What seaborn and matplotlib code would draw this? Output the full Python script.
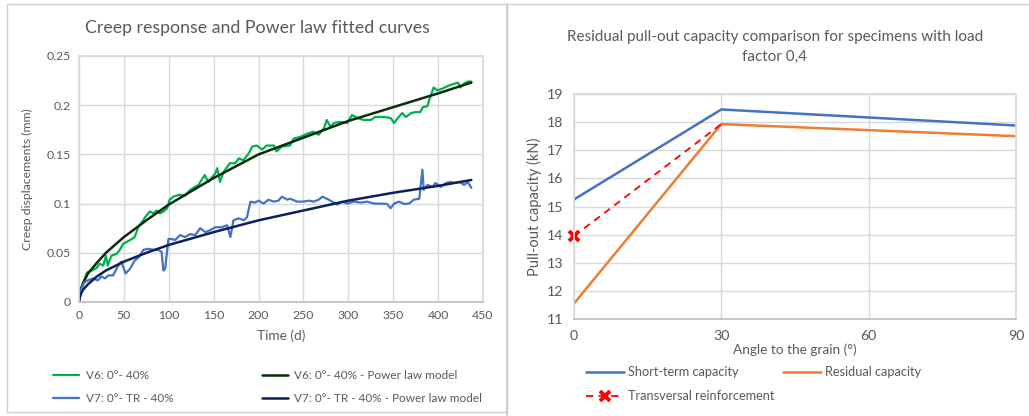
import numpy as np
import pandas as pd
import matplotlib
matplotlib.use("Agg")
import matplotlib.pyplot as plt
import seaborn as sns
from matplotlib.lines import Line2D
from matplotlib.patches import Rectangle

# ---------------- data: left chart ----------------
v6_t = [0, 4.5, 9, 14, 19, 23, 27, 30, 32, 36, 42, 45.5, 49, 53, 57, 62, 66, 70, 73.5, 79, 83, 86.5, 90, 94, 98,
        101, 105, 112, 118, 124, 133, 140, 144, 152, 154, 157, 161, 168, 174, 178, 183, 189, 193, 198, 204, 209,
        217, 220, 226, 235, 239, 247, 254, 261, 267, 273, 276, 280, 284, 291, 299, 304, 310, 317, 325, 330, 340,
        347, 351, 356, 360, 364, 370, 375, 380, 383, 388, 390, 395, 399, 405, 412, 422, 425, 429, 433, 437]
v6_v = [0.009, 0.019, 0.030, 0.032, 0.034, 0.039, 0.037, 0.047, 0.037, 0.047, 0.049, 0.053, 0.059, 0.061, 0.063,
        0.066, 0.076, 0.081, 0.086, 0.092, 0.090, 0.093, 0.090, 0.092, 0.095,
        0.104, 0.107, 0.109, 0.108, 0.114, 0.119, 0.129, 0.122, 0.131, 0.136, 0.122, 0.132, 0.141, 0.141, 0.146,
        0.144, 0.151, 0.158, 0.159, 0.155, 0.159, 0.159, 0.153, 0.158, 0.159, 0.166, 0.168, 0.171, 0.173, 0.170,
        0.177, 0.185, 0.178, 0.182, 0.183, 0.182, 0.190, 0.187, 0.185, 0.185, 0.188, 0.188, 0.187, 0.182, 0.188,
        0.192, 0.188, 0.192, 0.193, 0.193, 0.198, 0.199, 0.205, 0.218, 0.215, 0.217, 0.220, 0.223, 0.218, 0.222,
        0.224, 0.224]

v7_t = [0, 2.6, 6, 10, 15.7, 21, 25, 29, 32.5, 38, 43.6, 47, 52, 57, 62, 67, 71.6, 77, 83, 88, 92, 94, 96, 99.6,
        103, 107, 112.7, 118, 124, 129.5, 135, 140.7, 146, 152, 159, 165, 168.6, 172, 178, 183.6, 187, 191,
        196, 200, 205.6, 211, 217, 222, 226, 232, 235, 243, 250, 256, 261.5, 267, 271, 276, 282, 287.6, 293,
        299, 306, 314, 321, 328.5, 336, 343, 347, 351, 356.5, 362, 367.6, 373, 379, 382.5, 384, 388, 394, 397,
        403, 409, 414, 418, 424, 429, 433, 437]
v7_v = [0.0, 0.0136, 0.020, 0.022, 0.024, 0.022, 0.026, 0.024, 0.027, 0.027, 0.037, 0.041, 0.029, 0.034, 0.042,
        0.046, 0.053, 0.054, 0.053, 0.053, 0.051, 0.032, 0.034, 0.064, 0.064, 0.063, 0.068, 0.066, 0.069, 0.068,
        0.075, 0.071, 0.073, 0.076, 0.076, 0.078, 0.066, 0.083, 0.085, 0.083, 0.086, 0.102,
        0.101, 0.103, 0.100, 0.104, 0.102, 0.103, 0.107, 0.104, 0.105, 0.102, 0.102, 0.103, 0.102, 0.104, 0.107,
        0.105, 0.102, 0.099, 0.102, 0.100, 0.102, 0.101, 0.102, 0.100, 0.100, 0.0997, 0.0953, 0.100, 0.102,
        0.0997, 0.100, 0.104, 0.105, 0.1346, 0.114, 0.119, 0.117, 0.121, 0.117, 0.121, 0.122, 0.121, 0.122,
        0.119, 0.122, 0.116]

m6_t = [0, 1, 2.5, 5, 10, 20, 30, 50, 75, 100, 150, 200, 250, 300, 350, 400, 437]
m6_v = [0.003, 0.009, 0.014, 0.020, 0.029, 0.040, 0.050, 0.066, 0.083, 0.099, 0.126, 0.150, 0.167, 0.184,
        0.198, 0.212, 0.223]
m7_t = [0, 1, 2.5, 5, 10, 20, 30, 50, 75, 100, 150, 200, 250, 300, 350, 400, 437]
m7_v = [0.0, 0.005, 0.009, 0.013, 0.018, 0.026, 0.032, 0.041, 0.050, 0.058, 0.071, 0.083, 0.093, 0.103,
        0.111, 0.118, 0.124]

left_labels = ["V6: 0°- 40%", "V6: 0°- 40% - Power law model",
               "V7: 0°- TR - 40%", "V7: 0°- TR - 40% - Power law model"]

# ---------------- data: right chart ----------------
angles = [0, 30, 90]
short_term = [15.25, 18.45, 17.88]
residual = [11.55, 17.93, 17.50]
trans_angles = [0, 30]
transversal = [13.95, 17.93]
right_labels = ["Short-term capacity", "Residual capacity", "Transversal reinforcement"]

# ---------------- style ----------------
sns.set_theme(style="whitegrid")
FONT = ["Lato", "DejaVu Sans"]
plt.rcParams["font.family"] = FONT
TXT = "#595959"
GRID = "#d9d9d9"

fig = plt.figure(figsize=(10.29, 4.16), dpi=100)
fig.patch.set_facecolor("white")

# panel borders
fig.add_artist(Rectangle((7 / 1029, 1 - 412 / 416), 500 / 1029, 408 / 416, transform=fig.transFigure,
                         fill=False, edgecolor="#d0d0d0", lw=1.0))
fig.add_artist(Line2D([507 / 1029, 507 / 1029], [0, 1 - 4 / 416], transform=fig.transFigure,
                      color="#c8c8c8", lw=1.2))
fig.add_artist(Line2D([507 / 1029, 1.0], [1 - 4 / 416, 1 - 4 / 416], transform=fig.transFigure,
                      color="#d0d0d0", lw=1.0))

# ---------------- left chart ----------------
ax1 = fig.add_axes([79 / 1029, 1 - 302 / 416, 404 / 1029, 246 / 416])
df6 = pd.DataFrame({"t": v6_t, "v": v6_v})
df7 = pd.DataFrame({"t": v7_t, "v": v7_v})
dm6 = pd.DataFrame({"t": m6_t, "v": m6_v})
dm7 = pd.DataFrame({"t": m7_t, "v": m7_v})
sns.lineplot(data=df6, x="t", y="v", ax=ax1, color="#00b050", lw=1.6, sort=False, label=left_labels[0])
sns.lineplot(data=dm6, x="t", y="v", ax=ax1, color="#0d2b0d", lw=1.8, sort=False, label=left_labels[1])
sns.lineplot(data=df7, x="t", y="v", ax=ax1, color="#4472c4", lw=1.6, sort=False, label=left_labels[2])
sns.lineplot(data=dm7, x="t", y="v", ax=ax1, color="#0f1f5c", lw=1.8, sort=False, label=left_labels[3])
ax1.set_xlim(0, 450)
ax1.set_ylim(0, 0.25)
ax1.set_xticks(np.arange(0, 451, 50))
ax1.set_yticks([0, 0.05, 0.1, 0.15, 0.2, 0.25])
ax1.set_yticklabels(["0", "0.05", "0.1", "0.15", "0.2", "0.25"])
ax1.set_xlabel("Time (d)", color=TXT, fontsize=9.8, labelpad=6)
ax1.set_ylabel("Creep displacements (mm)", color=TXT, fontsize=8.8, labelpad=14)
ax1.yaxis.set_label_coords(-0.113, 0.5)
fig.text(257 / 1029, 1 - 28 / 416, "Creep response and Power law fitted curves", color=TXT,
         fontsize=12.8, ha="center", va="center")
ax1.tick_params(colors=TXT, labelsize=8.8, length=0, pad=6)
ax1.grid(True, color=GRID, lw=1.0)
for s in ax1.spines.values():
    s.set_visible(True)
    s.set_color(GRID)
ax1.spines["bottom"].set_color("#bfbfbf")
h, l = ax1.get_legend_handles_labels()
order = [0, 2, 1, 3]
ax1.legend([h[i] for i in order], [l[i] for i in order], ncol=2, loc="upper left",
           bbox_to_anchor=(-0.09, -0.235), frameon=False,
           fontsize=8.5, labelcolor=TXT, handlelength=2.2, handletextpad=0.55, columnspacing=7.5,
           labelspacing=0.95)

# ---------------- right chart ----------------
ax2 = fig.add_axes([574 / 1029, 1 - 319 / 416, 442 / 1029, 225 / 416])
dst = pd.DataFrame({"a": angles, "v": short_term})
dre = pd.DataFrame({"a": angles, "v": residual})
dtr = pd.DataFrame({"a": trans_angles, "v": transversal})
sns.lineplot(data=dst, x="a", y="v", ax=ax2, color="#4472c4", lw=1.8, label=right_labels[0])
sns.lineplot(data=dre, x="a", y="v", ax=ax2, color="#ed7d31", lw=1.8, label=right_labels[1])
sns.lineplot(data=dtr, x="a", y="v", ax=ax2, color="#ff0000", lw=1.3, ls=(0, (4, 3)),
             marker="x", markersize=7, markevery=[0], markeredgewidth=2.8, markeredgecolor="#ff0000",
             label=right_labels[2], clip_on=False)
ax2.set_xlim(0, 90)
ax2.set_ylim(11, 19)
ax2.set_xticks([0, 30, 60, 90])
ax2.set_yticks(range(11, 20))
ax2.set_xlabel("Angle to the grain (°)", color=TXT, fontsize=9.8, labelpad=1)
ax2.set_ylabel("Pull-out capacity (kN)", color=TXT, fontsize=10.5, labelpad=3)
fig.text(775 / 1029, 1 - 47 / 416, "Residual pull-out capacity comparison for specimens with load\nfactor 0,4",
         color=TXT, fontsize=11, ha="center", va="center", linespacing=1.55, multialignment="center")
ax2.tick_params(colors=TXT, labelsize=10.2, length=0)
ax2.tick_params(axis="x", pad=8)
ax2.tick_params(axis="y", pad=8)
ax2.grid(True, color=GRID, lw=1.0)
for s in ax2.spines.values():
    s.set_visible(True)
    s.set_color(GRID)
ax2.spines["bottom"].set_color("#bfbfbf")
h2, l2 = ax2.get_legend_handles_labels()
leg_a = ax2.legend(h2[:2], l2[:2], ncol=2, loc="upper left", bbox_to_anchor=(0.0, -0.16), frameon=False,
                   fontsize=9.2, labelcolor=TXT, handlelength=3.0, handletextpad=0.3, columnspacing=3.5)
ax2.add_artist(leg_a)
ax2.legend(h2[2:], l2[2:], loc="upper left", bbox_to_anchor=(0.0, -0.265), frameon=False,
           fontsize=9.2, labelcolor=TXT, handlelength=3.0, handletextpad=0.3)

fig.savefig("out.png", dpi=100, facecolor="white")
